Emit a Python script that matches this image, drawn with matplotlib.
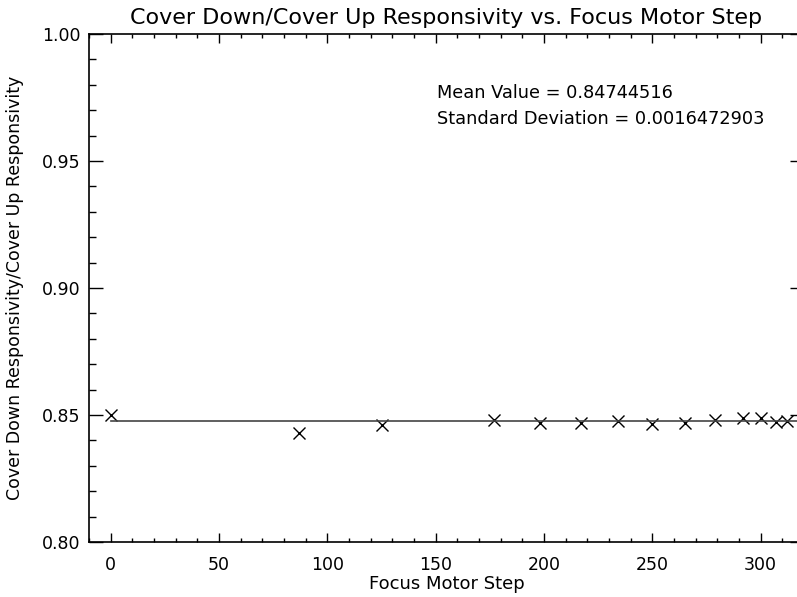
import numpy as np
import matplotlib
matplotlib.use('Agg')
import matplotlib.pyplot as plt
from matplotlib.ticker import MultipleLocator

# focus motor step vs cover down / cover up responsivity ratio
steps = [0, 87, 125, 177, 198, 217, 234, 250, 265, 279, 292, 300, 307, 312]
ratio = [0.8499, 0.8428, 0.8460, 0.8480, 0.8470, 0.8470, 0.8476, 0.8466, 0.8470,
         0.8480, 0.8488, 0.8488, 0.8474, 0.8475]
mean_value = 0.84744516
std_dev = 0.0016472903

plt.rcParams['font.family'] = 'DejaVu Sans'

fig = plt.figure(figsize=(7.97, 5.97), dpi=100)
# axes runs past the right edge of the figure, as in the original
ax = fig.add_axes([89 / 797, 55 / 597, 715 / 797, 508 / 597])

ax.plot(steps, ratio, linestyle='none', marker='x', color='black',
        markersize=9, markeredgewidth=1.0)
ax.axhline(mean_value, xmin=(0 + 10) / 330, xmax=1, color='#444444', lw=1.2)

ax.set_xlim(-10, 320)
ax.set_ylim(0.80, 1.00)
ax.xaxis.set_major_locator(MultipleLocator(50))
ax.xaxis.set_minor_locator(MultipleLocator(10))
ax.yaxis.set_major_locator(MultipleLocator(0.05))
ax.yaxis.set_minor_locator(MultipleLocator(0.01))
ax.yaxis.set_major_formatter(plt.FormatStrFormatter('%.2f'))

ax.tick_params(axis='x', which='major', direction='in', length=6.5, width=1,
               top=True, labelsize=12.5, pad=10)
ax.tick_params(axis='x', which='minor', direction='in', length=3.2, width=1, top=True)
ax.tick_params(axis='y', which='major', direction='in', length=10, width=1,
               right=True, labelsize=12.5, pad=6)
ax.tick_params(axis='y', which='minor', direction='in', length=5, width=1, right=True)
for s in ax.spines.values():
    s.set_linewidth(1.2)

ax.set_title('Cover Down/Cover Up Responsivity vs. Focus Motor Step',
             fontsize=16, pad=7)
ax.set_xlabel('Focus Motor Step', fontsize=13, labelpad=1)
ax.set_ylabel('Cover Down Responsivity/Cover Up Responsivity', fontsize=12.5, labelpad=13)

ax.text(437 / 797, 1 - 93 / 597, 'Mean Value = %.8f' % mean_value,
        transform=fig.transFigure, fontsize=12.8, va='center', ha='left')
ax.text(437 / 797, 1 - 119 / 597, 'Standard Deviation = %.10f' % std_dev,
        transform=fig.transFigure, fontsize=12.8, va='center', ha='left')

fig.savefig('out.png', dpi=100)
